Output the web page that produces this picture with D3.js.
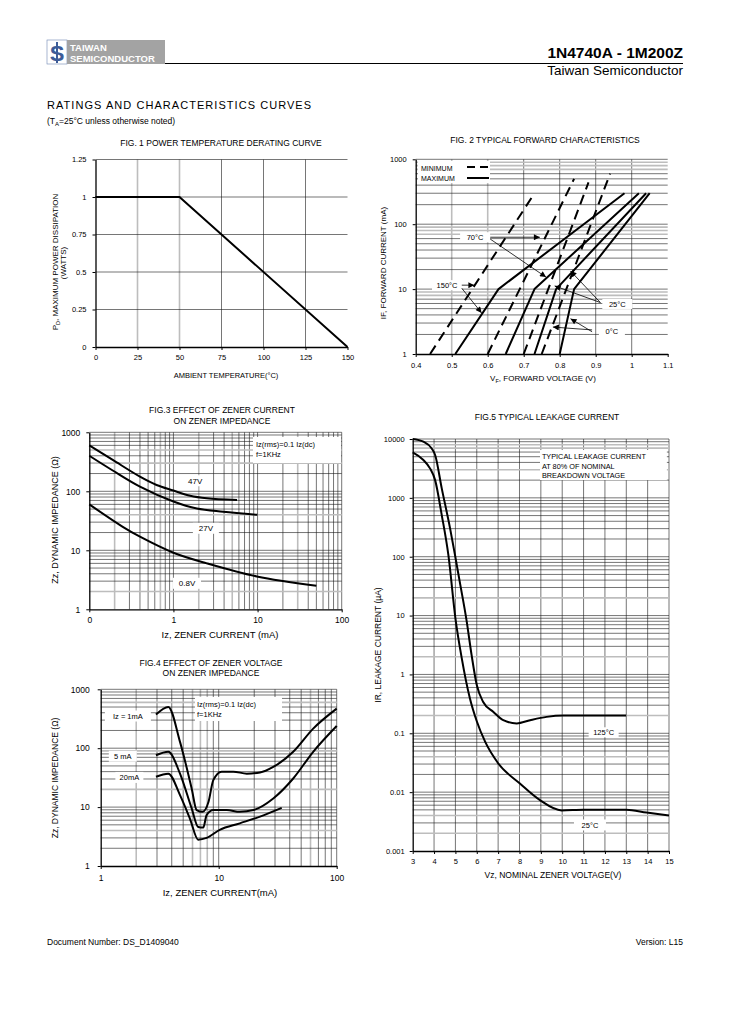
<!DOCTYPE html>
<html><head><meta charset="utf-8">
<script src="https://cdn.jsdelivr.net/npm/d3@7"></script>
<style>body{margin:0;background:#fff} text{font-family:"Liberation Sans",Arial,sans-serif}</style>
</head><body><svg id="c" width="729" height="1032"></svg>
<script>
// ---------- DATA ----------
// Fig 1
const f1Temp = [0, 50, 150];
const f1Power = [1, 1, 0];
const f1XTicks = [0, 25, 50, 75, 100, 125, 150];
const f1YTicks = [0, 0.25, 0.5, 0.75, 1, 1.25];
const f1YLabels = ["0", "0.25", "0.5", "0.75", "1", "1.25"];
// Fig 2 (V, mA)
const f2Min150V = [0.44, 0.73], f2Min150I = [1, 300];
const f2Min70V = [0.60, 0.84], f2Min70I = [1, 500];
const f2Min25V = [0.70, 0.88], f2Min25I = [1, 440];
const f2Min0V = [0.75, 0.94], f2Min0I = [1, 600];
const f2Max150V = [0.51, 0.63, 0.98], f2Max150I = [1, 10, 300];
const f2Max70V = [0.65, 0.73, 1.02], f2Max70I = [1, 10, 300];
const f2Max25V = [0.73, 0.79, 1.04], f2Max25I = [1, 10, 300];
const f2Max0V = [0.80, 0.84, 1.05], f2Max0I = [1, 10, 300];
const f2XTicks = [0.4, 0.5, 0.6, 0.7, 0.8, 0.9, 1, 1.1];
const f2XLabels = ["0.4", "0.5", "0.6", "0.7", "0.8", "0.9", "1", "1.1"];
const f2YTicks = [1, 10, 100, 1000];
// Fig 3
const f3_47I = [0.1, 0.19, 0.4, 0.63, 1, 1.58, 2.5, 5.7];
const f3_47Z = [600, 340, 177, 128, 103, 84, 76, 71];
const f3_27I = [0.1, 0.19, 0.4, 1, 1.9, 3.9, 10];
const f3_27Z = [400, 225, 120, 67, 51, 45, 40];
const f3_08I = [0.1, 0.25, 0.4, 1, 2.5, 9.8, 50];
const f3_08Z = [60, 25, 17, 9.1, 6, 3.6, 2.5];
const f3XTicks = [0.1, 1, 10, 100];
const f3XLabels = ["0", "1", "10", "100"];
const f3YTicks = [1, 10, 100, 1000];
// Fig 4
const f4_1I = [2.94, 3.74, 4.7, 5.9, 6.5, 7.3, 8.2, 9.0, 10.6, 13.3, 17.3, 22.4, 29, 42.8, 63.2, 100];
const f4_1Z = [372, 502, 128, 20.7, 8.9, 8.3, 12.3, 28.7, 40, 40, 37, 38.6, 48, 87, 215, 470];
const f4_5I = [2.94, 3.74, 4.7, 5.9, 6.7, 7.4, 7.9, 9.0, 11.7, 15.1, 19.7, 29, 42.8, 63.2, 100];
const f4_5Z = [76, 87, 37, 9.5, 4.6, 4.5, 7.3, 8.9, 8.9, 8.3, 8.9, 14, 30.6, 87, 239];
const f4_20I = [2.94, 3.74, 4.7, 5.7, 6.7, 7.9, 10.2, 15.1, 22.4, 34.2];
const f4_20Z = [32.7, 37, 16, 6.4, 2.8, 3.0, 4.1, 5.3, 6.9, 9.7];
const f4XTicks = [1, 10, 100];
const f4YTicks = [1, 10, 100, 1000];
// Fig 5
const f5_125V = [3, 3.5, 3.89, 4.05, 4.36, 4.75, 4.98, 5.2, 5.53, 5.76, 6.0, 6.3, 6.78, 7.24, 7.87, 8.5, 9.27, 10.05, 11.9, 13];
const f5_125I = [10000, 9000, 6900, 5350, 1450, 303, 107, 38, 7.9, 2.1, 0.66, 0.34, 0.23, 0.167, 0.147, 0.167, 0.19, 0.2, 0.2, 0.2];
const f5_25V = [3, 3.5, 3.81, 4.05, 4.36, 4.67, 5.0, 5.3, 5.68, 6.0, 6.39, 7.0, 8.02, 8.96, 9.97, 11, 13, 13.95, 15];
const f5_25I = [5930, 4400, 3170, 2000, 510, 107, 9, 1.86, 0.39, 0.16, 0.072, 0.031, 0.014, 0.0073, 0.0049, 0.005, 0.005, 0.0045, 0.004];
const f5XTicks = [3, 4, 5, 6, 7, 8, 9, 10, 11, 12, 13, 14, 15];
const f5YTicks = [0.001, 0.01, 0.1, 1, 10, 100, 1000, 10000];
const f5YLabels = ["0.001", "0.01", "0.1", "1", "10", "100", "1000", "10000"];

// ---------- HELPERS ----------
const svg = d3.select('#c');
const FONT = '"Liberation Sans",Arial,sans-serif';
function txt(g, x, y, s, size, anchor, extra) {
  const t = g.append('text').attr('x', x).attr('y', y).attr('font-size', size)
    .attr('text-anchor', anchor || 'start').attr('fill', '#000').text(s);
  if (extra) extra(t);
  return t;
}
function logMinor(lo, hi) {
  const out = [];
  for (let d = lo; d < hi * 0.999; d *= 10) for (let k = 1; k < 10; k++) out.push(+(d * k).toPrecision(6));
  out.push(hi);
  return out;
}
function isIn(arr, v) { return arr.some(q => Math.abs(q - v) <= Math.abs(q) * 1e-6); }

function chart(c) {
  const g = svg.append('g');
  const x = (c.xLog ? d3.scaleLog() : d3.scaleLinear()).domain(c.xDom).range(c.xR);
  const y = (c.yLog ? d3.scaleLog() : d3.scaleLinear()).domain(c.yDom).range(c.yR);
  const [y0, y1] = [c.yR[0], c.yR[1]];
  const [x0, x1] = [c.xR[0], c.xR[1]];
  c.xGrid.forEach(v => {
    const gray = isIn(c.xGray || [], v);
    g.append('line').attr('x1', x(v)).attr('x2', x(v)).attr('y1', y0).attr('y2', y1)
      .attr('stroke', gray ? '#bdbdbd' : '#1a1a1a').attr('stroke-width', gray ? 1.6 : 0.6);
  });
  c.yGrid.forEach(v => {
    const gray = isIn(c.yGray || [], v);
    g.append('line').attr('x1', x0).attr('x2', x1).attr('y1', y(v)).attr('y2', y(v))
      .attr('stroke', gray ? '#bdbdbd' : '#1a1a1a').attr('stroke-width', gray ? 1.6 : 0.6);
  });
  const ax = g.append('g').attr('transform', `translate(0,${y0})`)
    .call(d3.axisBottom(x).tickValues(c.xTicks).tickFormat((d, i) => c.xLabels ? c.xLabels[i] : String(d))
      .tickSize(3).tickSizeOuter(0).tickPadding(c.xPad || 4));
  const ay = g.append('g').attr('transform', `translate(${x0},0)`)
    .call(d3.axisLeft(y).tickValues(c.yTicks).tickFormat((d, i) => c.yLabels ? c.yLabels[i] : String(d))
      .tickSize(3).tickSizeOuter(0).tickPadding(c.yPad || 6));
  [ax, ay].forEach(a => {
    a.selectAll('text').attr('font-family', FONT).attr('font-size', c.tickFs || 8).attr('fill', '#000');
    a.selectAll('line').attr('stroke', '#000');
    a.select('.domain').attr('stroke', '#000').attr('stroke-width', 1.3);
  });
  return { g, x, y };
}
function curve(ch, xs, ys, dash, interp) {
  const pts = xs.map((v, i) => [v, ys[i]]);
  const line = d3.line().x(d => ch.x(d[0])).y(d => ch.y(d[1])).curve(interp || d3.curveLinear);
  ch.g.append('path').attr('d', line(pts)).attr('fill', 'none').attr('stroke', '#000')
    .attr('stroke-width', 2).attr('stroke-dasharray', dash || null).attr('stroke-linejoin', 'round');
}
function boxLabel(g, cx, cy, s, fs, w, h) {
  g.append('rect').attr('x', cx - w / 2).attr('y', cy - h / 2).attr('width', w).attr('height', h).attr('fill', '#fff');
  txt(g, cx, cy + fs * 0.35, s, fs, 'middle');
}
svg.append('defs').append('marker').attr('id', 'ah').attr('viewBox', '0 0 10 10')
  .attr('refX', 10).attr('refY', 5).attr('markerWidth', 7).attr('markerHeight', 6)
  .attr('markerUnits', 'userSpaceOnUse').attr('orient', 'auto')
  .append('path').attr('d', 'M0,0 L10,5 L0,10 z').attr('fill', '#000');
function arrow(ch, xa, ya, xb, yb) {
  ch.g.append('line').attr('x1', ch.x(xa)).attr('y1', ch.y(ya)).attr('x2', ch.x(xb)).attr('y2', ch.y(yb))
    .attr('stroke', '#000').attr('stroke-width', 0.8).attr('marker-end', 'url(#ah)');
}

// ---------- HEADER ----------
const hd = svg.append('g');
hd.append('rect').attr('x', 47).attr('y', 40).attr('width', 20).attr('height', 24).attr('fill', '#fff').attr('stroke', '#6f86b3').attr('stroke-width', 0.6);
txt(hd, 57, 61, 'S', 22, 'middle', t => t.attr('font-weight', 'bold').attr('fill', '#3c5c98'));
hd.append('line').attr('x1', 57).attr('x2', 57).attr('y1', 42).attr('y2', 63).attr('stroke', '#3c5c98').attr('stroke-width', 2);
hd.append('rect').attr('x', 67).attr('y', 40).attr('width', 98).attr('height', 24).attr('fill', '#a3a3a3');
txt(hd, 70, 51, 'TAIWAN', 9.5, 'start', t => t.attr('fill', '#fff').attr('font-weight', 'bold'));
txt(hd, 70, 62, 'SEMICONDUCTOR', 9.5, 'start', t => t.attr('fill', '#fff').attr('font-weight', 'bold'));
hd.append('line').attr('x1', 165).attr('x2', 683).attr('y1', 63.5).attr('y2', 63.5).attr('stroke', '#000').attr('stroke-width', 1);
txt(hd, 683, 58, '1N4740A - 1M200Z', 15.5, 'end', t => t.attr('font-weight', 'bold'));
txt(hd, 683, 75, 'Taiwan Semiconductor', 13.5, 'end');
txt(hd, 47, 109, 'RATINGS AND CHARACTERISTICS CURVES', 11, 'start', t => t.attr('letter-spacing', 1.05));
const sub = txt(hd, 47, 124, '(T', 8.5, 'start');
sub.append('tspan').attr('font-size', 6).attr('dy', 2).text('A');
sub.append('tspan').attr('dy', -2).text('=25°C unless otherwise noted)');
txt(hd, 47, 945, 'Document Number: DS_D1409040', 8.5, 'start');
txt(hd, 683, 945, 'Version: L15', 8.5, 'end');

// ---------- FIG 1 ----------
const c1 = chart({
  xDom: [0, 150], xR: [95.5, 347.5], yDom: [0, 1.25], yR: [347, 159.5],
  xGrid: [25, 50, 75, 100, 125], xGray: [25, 50], yGrid: [0.25, 0.5, 0.75, 1, 1.25],
  xTicks: f1XTicks, yTicks: f1YTicks, yLabels: f1YLabels, tickFs: 7.5, xPad: 5, yPad: 6
});
curve(c1, f1Temp, f1Power);
txt(c1.g, 221, 146, 'FIG. 1 POWER TEMPERATURE DERATING CURVE', 8.5, 'middle');
txt(c1.g, 226, 378, 'AMBIENT TEMPERATURE(°C)', 7.5, 'middle');
const yl1 = txt(c1.g, 0, 0, 'P', 8, 'middle', t => t.attr('transform', 'translate(58,262) rotate(-90)'));
yl1.append('tspan').attr('font-size', 5.5).attr('dy', 2).text('D');
yl1.append('tspan').attr('dy', -2).text(', MAXIMUM POWER DISSIPATION');
txt(c1.g, 0, 0, '(WATTS)', 8, 'middle', t => t.attr('transform', 'translate(66,263) rotate(-90)'));

// ---------- FIG 2 ----------
const c2 = chart({
  xLog: false, yLog: true, xDom: [0.4, 1.1], xR: [415.7, 667.7], yDom: [1, 1000], yR: [354, 159.3],
  xGrid: [0.5, 0.6, 0.7, 0.8, 0.9, 1.0], xGray: [0.5, 0.6],
  yGrid: logMinor(1, 1000).slice(1), yGray: [8, 9, 70, 80, 90, 700, 800, 900],
  xTicks: f2XTicks, xLabels: f2XLabels, yTicks: f2YTicks, tickFs: 7.5, xPad: 6, yPad: 6
});
c2.g.append('rect').attr('x', 418).attr('y', 161).attr('width', 72).attr('height', 22).attr('fill', '#fff');
txt(c2.g, 421, 171, 'MINIMUM', 7, 'start');
txt(c2.g, 421, 181, 'MAXIMUM', 7, 'start');
c2.g.append('line').attr('x1', 467).attr('x2', 489).attr('y1', 167).attr('y2', 167).attr('stroke', '#000').attr('stroke-width', 2).attr('stroke-dasharray', '8,5');
c2.g.append('line').attr('x1', 467).attr('x2', 489).attr('y1', 178).attr('y2', 178).attr('stroke', '#000').attr('stroke-width', 2);
const D = '10,6';
curve(c2, f2Min150V, f2Min150I, D);
curve(c2, f2Min70V, f2Min70I, D);
curve(c2, f2Min25V, f2Min25I, D);
curve(c2, f2Min0V, f2Min0I, D);
curve(c2, f2Max150V, f2Max150I);
curve(c2, f2Max70V, f2Max70I);
curve(c2, f2Max25V, f2Max25I);
curve(c2, f2Max0V, f2Max0I);
boxLabel(c2.g, c2.x(0.565), c2.y(63), '70°C', 7.5, 30, 10);
arrow(c2, 0.607, 63, 0.745, 63);
arrow(c2, 0.607, 59, 0.762, 15.3);
boxLabel(c2.g, c2.x(0.487), c2.y(11.5), '150°C', 7.5, 30, 10);
arrow(c2, 0.528, 11.5, 0.563, 11.5);
arrow(c2, 0.528, 10.3, 0.583, 4.3);
boxLabel(c2.g, c2.x(0.96), c2.y(5.9), '25°C', 7.5, 30, 10);
arrow(c2, 0.913, 6.2, 0.786, 11.2);
arrow(c2, 0.913, 6.2, 0.83, 19);
boxLabel(c2.g, c2.x(0.945), c2.y(2.2), '0°C', 7.5, 26, 10);
arrow(c2, 0.89, 2.35, 0.781, 2.6);
arrow(c2, 0.89, 2.2, 0.83, 3.5);
txt(c2.g, 545, 143, 'FIG. 2 TYPICAL FORWARD CHARACTERISTICS', 8.5, 'middle');
const xl2 = txt(c2.g, 543, 381, 'V', 8, 'middle');
xl2.append('tspan').attr('font-size', 5.5).attr('dy', 2).text('F');
xl2.append('tspan').attr('dy', -2).text(', FORWARD VOLTAGE (V)');
txt(c2.g, 0, 0, 'IF, FORWARD CURRENT (mA)', 8, 'middle', t => t.attr('transform', 'translate(386,263) rotate(-90)'));

// ---------- FIG 3 ----------
const c3 = chart({
  xLog: true, yLog: true, xDom: [0.1, 100], xR: [89.3, 341.7], yDom: [1, 1000], yR: [609.3, 432.3],
  xGrid: logMinor(0.1, 100).slice(1), xGray: [0.2, 0.7, 2, 5, 30],
  yGrid: logMinor(1, 1000).slice(1), yGray: [2, 40, 300, 500],
  xTicks: f3XTicks, xLabels: f3XLabels, yTicks: f3YTicks, tickFs: 8.5, xPad: 5, yPad: 6
});
const sm = d3.curveMonotoneX;
const cr = d3.curveCatmullRom.alpha(0.5);
curve(c3, f3_47I, f3_47Z, null, cr);
curve(c3, f3_27I, f3_27Z, null, cr);
curve(c3, f3_08I, f3_08Z, null, cr);
boxLabel(c3.g, c3.x(1.81), c3.y(151), '47V', 8, 22, 11);
boxLabel(c3.g, c3.x(2.43), c3.y(23.6), '27V', 8, 26, 11);
boxLabel(c3.g, c3.x(1.45), c3.y(2.76), '0.8V', 8, 28, 11);
c3.g.append('rect').attr('x', 253).attr('y', 437).attr('width', 88).attr('height', 26).attr('fill', '#fff');
txt(c3.g, 256, 447, 'Iz(rms)=0.1 Iz(dc)', 7.5, 'start');
txt(c3.g, 256, 457, 'f=1KHz', 7.5, 'start');
txt(c3.g, 222, 413, 'FIG.3 EFFECT OF ZENER CURRENT', 8.5, 'middle');
txt(c3.g, 222, 423.5, 'ON ZENER IMPEDANCE', 8.5, 'middle');
txt(c3.g, 220, 638, 'Iz, ZENER CURRENT (mA)', 9.5, 'middle');
txt(c3.g, 0, 0, 'Zz, DYNAMIC IMPEDANCE (Ω)', 9, 'middle', t => t.attr('transform', 'translate(58,520) rotate(-90)'));

// ---------- FIG 4 ----------
const c4 = chart({
  xLog: true, yLog: true, xDom: [1, 100], xR: [100.7, 336.7], yDom: [1, 1000], yR: [866, 689.3],
  xGrid: logMinor(1, 100).slice(1), xGray: [2, 6, 7, 8, 60],
  yGrid: logMinor(1, 1000).slice(1), yGray: [4, 20, 90, 600],
  xTicks: f4XTicks, yTicks: f4YTicks, tickFs: 8.5, xPad: 6, yPad: 8
});
curve(c4, f4_1I, f4_1Z, null, sm);
curve(c4, f4_5I, f4_5Z, null, sm);
curve(c4, f4_20I, f4_20Z, null, sm);
boxLabel(c4.g, c4.x(1.7), c4.y(352), 'Iz = 1mA', 7.5, 46, 11);
boxLabel(c4.g, c4.x(1.54), c4.y(73), '5 mA', 7.5, 28, 11);
boxLabel(c4.g, c4.x(1.75), c4.y(31.9), '20mA', 7.5, 28, 11);
c4.g.append('rect').attr('x', 195).attr('y', 697).attr('width', 87).attr('height', 24).attr('fill', '#fff');
txt(c4.g, 197, 707, 'Iz(rms)=0.1 Iz(dc)', 7.5, 'start');
txt(c4.g, 197, 717, 'f=1KHz', 7.5, 'start');
txt(c4.g, 211, 665.5, 'FIG.4 EFFECT OF ZENER VOLTAGE', 8.5, 'middle');
txt(c4.g, 211, 675.5, 'ON ZENER IMPEDANCE', 8.5, 'middle');
txt(c4.g, 220, 896, 'Iz, ZENER CURRENT(mA)', 9.5, 'middle');
txt(c4.g, 0, 0, 'Zz, DYNAMIC IMPEDANCE (Ω)', 8.5, 'middle', t => t.attr('transform', 'translate(58,778) rotate(-90)'));

// ---------- FIG 5 ----------
const c5 = chart({
  xLog: false, yLog: true, xDom: [3, 15], xR: [412.7, 669], yDom: [0.001, 10000], yR: [851, 439],
  xGrid: d3.range(4, 16), xGray: [],
  yGrid: logMinor(0.001, 10000).slice(1), yGray: [0.002, 0.004, 0.04, 0.2, 2, 20, 3000, 7000, 8000],
  xTicks: f5XTicks, yTicks: f5YTicks, yLabels: f5YLabels, tickFs: 7.5, xPad: 5, yPad: 5
});
curve(c5, f5_125V, f5_125I, null, sm);
curve(c5, f5_25V, f5_25I, null, sm);
c5.g.append('rect').attr('x', c5.x(8.96)).attr('y', c5.y(6500)).attr('width', c5.x(14.9) - c5.x(8.96))
  .attr('height', c5.y(2000) - c5.y(6500)).attr('fill', '#fff');
txt(c5.g, c5.x(9.05), 459, 'TYPICAL LEAKAGE CURRENT', 7.3, 'start');
txt(c5.g, c5.x(9.05), 468.5, 'AT 80% OF NOMINAL', 7.3, 'start');
txt(c5.g, c5.x(9.05), 478, 'BREAKDOWN VOLTAGE', 7.3, 'start');
boxLabel(c5.g, c5.x(11.94), c5.y(0.104), '125°C', 7.5, 30, 10);
boxLabel(c5.g, c5.x(11.3), c5.y(0.00277), '25°C', 7.5, 32, 11);
txt(c5.g, 547, 420, 'FIG.5 TYPICAL LEAKAGE CURRENT', 8.5, 'middle');
txt(c5.g, 553, 878, 'Vz, NOMINAL ZENER VOLTAGE(V)', 8.5, 'middle');
txt(c5.g, 0, 0, 'IR, LEAKAGE CURRENT (µA)', 8.5, 'middle', t => t.attr('transform', 'translate(381,645) rotate(-90)'));
</script></body></html>
